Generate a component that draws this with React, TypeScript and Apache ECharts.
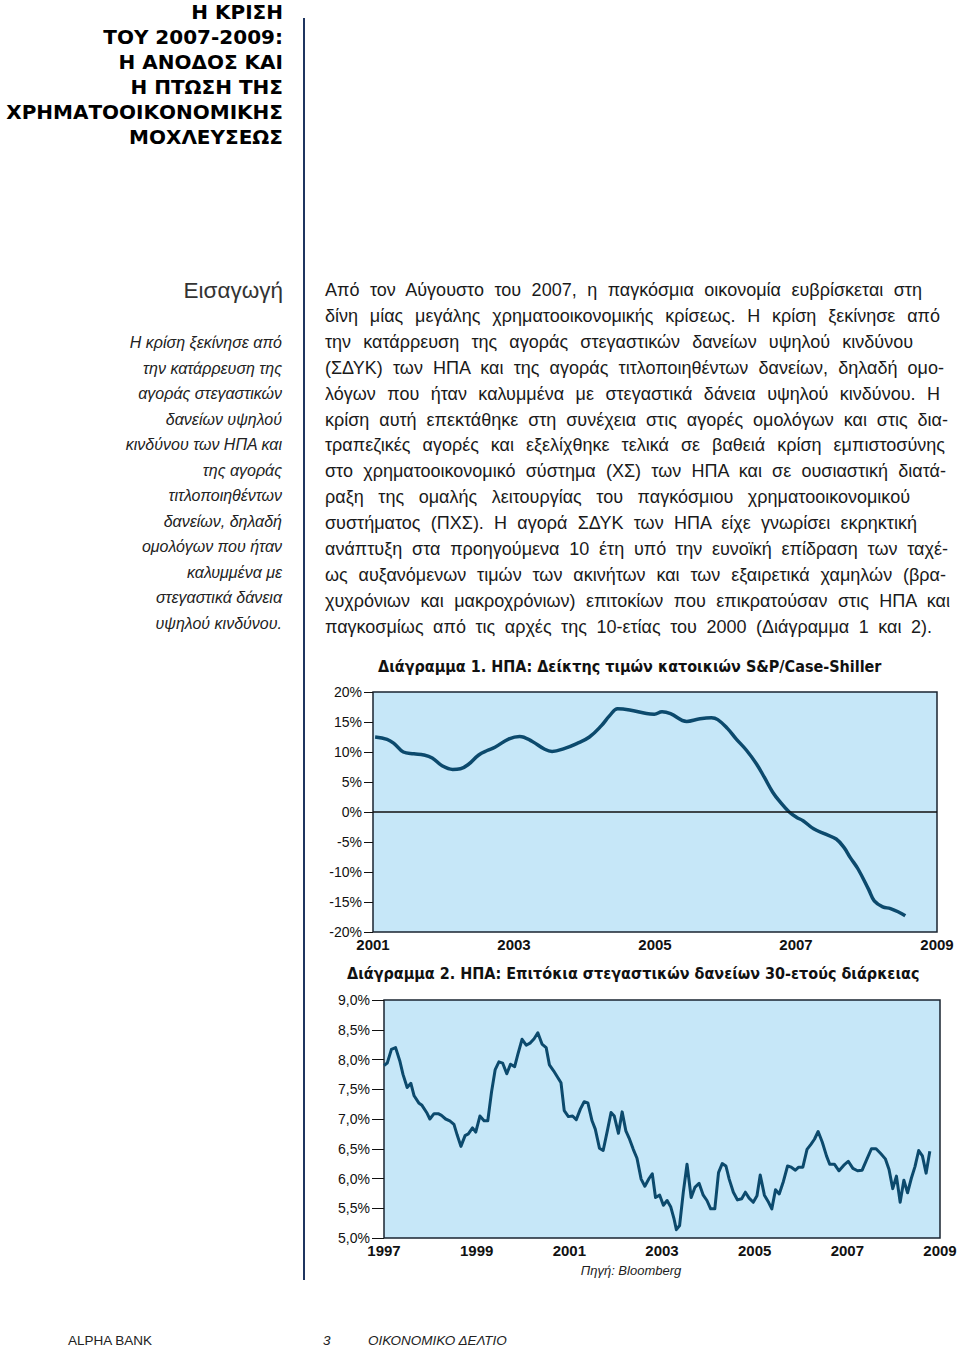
import React, { useEffect, useRef } from "react";
import * as echarts from "echarts";

// ---------- DATA ----------
const csYears = [2001.03, 2001.2, 2001.3, 2001.43, 2001.58, 2001.72, 2001.84, 2001.98, 2002.13, 2002.24, 2002.36, 2002.5, 2002.62, 2002.73, 2002.93, 2003.08, 2003.26, 2003.43, 2003.54, 2003.72, 2003.89, 2004.07, 2004.24, 2004.36, 2004.47, 2004.64, 2004.88, 2004.99, 2005.1, 2005.22, 2005.45, 2005.62, 2005.8, 2005.89, 2006.03, 2006.15, 2006.3, 2006.44, 2006.55, 2006.67, 2006.78, 2006.9, 2007.01, 2007.1, 2007.25, 2007.42, 2007.57, 2007.68, 2007.77, 2007.88, 2008.03, 2008.11, 2008.23, 2008.34, 2008.46, 2008.55];
const csValues = [12.5, 12.1, 11.4, 10.0, 9.7, 9.5, 9.0, 7.7, 7.1, 7.2, 8.0, 9.5, 10.25, 10.8, 12.2, 12.6, 11.75, 10.5, 10.1, 10.6, 11.4, 12.5, 14.4, 16.1, 17.2, 17.0, 16.4, 16.3, 16.7, 16.4, 15.1, 15.5, 15.7, 15.4, 13.9, 12.2, 10.25, 8.0, 5.8, 3.3, 1.6, 0.05, -0.9, -1.45, -2.8, -3.7, -4.5, -5.9, -7.6, -9.5, -12.9, -14.8, -15.8, -16.1, -16.7, -17.3];

const rateYears = [1997.0, 1997.07, 1997.16, 1997.25, 1997.34, 1997.41, 1997.5, 1997.58, 1997.65, 1997.75, 1997.82, 1997.92, 1997.99, 1998.08, 1998.17, 1998.24, 1998.33, 1998.42, 1998.51, 1998.58, 1998.66, 1998.75, 1998.82, 1998.91, 1998.98, 1999.07, 1999.16, 1999.24, 1999.32, 1999.4, 1999.48, 1999.56, 1999.65, 1999.73, 1999.82, 1999.89, 1999.98, 2000.07, 2000.16, 2000.24, 2000.32, 2000.41, 2000.5, 2000.57, 2000.66, 2000.74, 2000.82, 2000.89, 2000.98, 2001.07, 2001.15, 2001.24, 2001.32, 2001.4, 2001.49, 2001.56, 2001.65, 2001.73, 2001.82, 2001.9, 2001.97, 2002.06, 2002.14, 2002.22, 2002.3, 2002.38, 2002.46, 2002.55, 2002.63, 2002.72, 2002.79, 2002.86, 2002.95, 2003.03, 2003.11, 2003.19, 2003.26, 2003.31, 2003.38, 2003.46, 2003.54, 2003.63, 2003.71, 2003.8, 2003.89, 2003.97, 2004.05, 2004.14, 2004.22, 2004.3, 2004.38, 2004.45, 2004.54, 2004.63, 2004.72, 2004.8, 2004.88, 2004.97, 2005.05, 2005.12, 2005.21, 2005.3, 2005.37, 2005.45, 2005.53, 2005.62, 2005.71, 2005.79, 2005.88, 2005.95, 2006.04, 2006.13, 2006.21, 2006.29, 2006.37, 2006.46, 2006.55, 2006.62, 2006.72, 2006.82, 2006.92, 2007.02, 2007.12, 2007.22, 2007.32, 2007.42, 2007.52, 2007.62, 2007.72, 2007.82, 2007.9, 2007.98, 2008.06, 2008.14, 2008.22, 2008.3, 2008.38, 2008.46, 2008.54, 2008.62, 2008.7, 2008.78];
const rateValues = [7.9, 7.94, 8.17, 8.2, 7.98, 7.75, 7.53, 7.6, 7.39, 7.27, 7.23, 7.11, 7.0, 7.09, 7.09, 7.06, 7.0, 6.97, 6.91, 6.73, 6.54, 6.72, 6.75, 6.85, 6.78, 7.05, 6.97, 6.97, 7.45, 7.83, 7.96, 7.94, 7.76, 7.92, 7.88, 8.09, 8.34, 8.24, 8.28, 8.35, 8.45, 8.26, 8.2, 7.91, 7.81, 7.71, 7.61, 7.14, 7.04, 7.05, 6.99, 7.17, 7.29, 7.27, 6.97, 6.83, 6.51, 6.47, 6.8, 7.11, 7.05, 6.76, 7.12, 6.8, 6.66, 6.49, 6.34, 5.99, 5.87, 6.0, 6.08, 5.68, 5.72, 5.55, 5.63, 5.52, 5.32, 5.14, 5.21, 5.77, 6.24, 5.68, 5.85, 5.92, 5.72, 5.63, 5.49, 5.49, 6.1, 6.25, 6.21, 5.99, 5.77, 5.64, 5.66, 5.77, 5.67, 5.6, 5.71, 6.06, 5.72, 5.6, 5.49, 5.81, 5.74, 5.95, 6.21, 6.19, 6.14, 6.19, 6.19, 6.49, 6.57, 6.66, 6.79, 6.61, 6.38, 6.24, 6.24, 6.13, 6.22, 6.29, 6.17, 6.13, 6.14, 6.32, 6.5, 6.5, 6.42, 6.33, 6.15, 5.83, 6.04, 5.6, 5.97, 5.76, 6.0, 6.2, 6.47, 6.38, 6.09, 6.46, 6.01];

const chart1Title = "Διάγραμμα 1. ΗΠΑ: Δείκτης τιμών κατοικιών S&P/Case-Shiller";
const chart2Title = "Διάγραμμα 2. ΗΠΑ: Επιτόκια στεγαστικών δανείων 30-ετούς διάρκειας";
const sourceText = "Πηγή: Bloomberg";

const headlineLines = ["Η ΚΡΙΣΗ", "ΤΟΥ 2007-2009:", "Η ΑΝΟΔΟΣ ΚΑΙ", "Η ΠΤΩΣΗ ΤΗΣ", "ΧΡΗΜΑΤΟΟΙΚΟΝΟΜΙΚΗΣ", "ΜΟΧΛΕΥΣΕΩΣ"];
const introHeading = "Εισαγωγή";
const introLines = ["Η κρίση ξεκίνησε από", "την κατάρρευση της", "αγοράς στεγαστικών", "δανείων υψηλού", "κινδύνου των ΗΠΑ και", "της αγοράς", "τιτλοποιηθέντων", "δανείων, δηλαδή", "ομολόγων που ήταν", "καλυμμένα με", "στεγαστικά δάνεια", "υψηλού κινδύνου."];
const bodyLines = [
  "Από τον Αύγουστο του 2007, η παγκόσμια οικονομία ευβρίσκεται στη",
  "δίνη μίας μεγάλης χρηματοοικονομικής κρίσεως. Η κρίση ξεκίνησε από",
  "την κατάρρευση της αγοράς στεγαστικών δανείων υψηλού κινδύνου",
  "(ΣΔΥΚ) των ΗΠΑ και της αγοράς τιτλοποιηθέντων δανείων, δηλαδή ομο-",
  "λόγων που ήταν καλυμμένα με στεγαστικά δάνεια υψηλού κινδύνου. Η",
  "κρίση αυτή επεκτάθηκε στη συνέχεια στις αγορές ομολόγων και στις δια-",
  "τραπεζικές αγορές και εξελίχθηκε τελικά σε βαθειά κρίση εμπιστοσύνης",
  "στο χρηματοοικονομικό σύστημα (ΧΣ) των ΗΠΑ και σε ουσιαστική διατά-",
  "ραξη της ομαλής λειτουργίας του παγκόσμιου χρηματοοικονομικού",
  "συστήματος (ΠΧΣ). Η αγορά ΣΔΥΚ των ΗΠΑ είχε γνωρίσει εκρηκτική",
  "ανάπτυξη στα προηγούμενα 10 έτη υπό την ευνοϊκή επίδραση των ταχέ-",
  "ως αυξανόμενων τιμών των ακινήτων και των εξαιρετικά χαμηλών (βρα-",
  "χυχρόνιων και μακροχρόνιων) επιτοκίων που επικρατούσαν στις ΗΠΑ και",
  "παγκοσμίως από τις αρχές της 10-ετίας του 2000 (Διάγραμμα 1 και 2).",
];
const bodyLineEnds = [922, 940, 913, 944, 940, 948, 945, 946, 910, 917, 948, 946, 950, 932];
const footerLeft = "ALPHA BANK";
const footerPage = "3";
const footerRight = "ΟΙΚΟΝΟΜΙΚΟ ΔΕΛΤΙΟ";

const SANS = '"Liberation Sans", Arial, Helvetica, sans-serif';
const COND = '"DejaVu Sans Condensed", "Liberation Sans Narrow", "DejaVu Sans", sans-serif';
const LINE = "#0c4a6d";
const PLOT_BG = "#c6e7f8";

function Charts() {
  const ref = useRef<HTMLDivElement>(null);
  useEffect(() => {
    if (!ref.current) return;
    const chart = echarts.init(ref.current, undefined, { renderer: "svg" });
    const yLabel = { fontFamily: SANS, fontSize: 14, color: "#111" };
    const xLabel = { fontFamily: SANS, fontSize: 15, fontWeight: "bold" as const, color: "#111", margin: 5 };
    chart.setOption({
      animation: false,
      graphic: [
        { type: "text", x: 78, y: 21, style: { text: chart1Title, font: `bold 16px ${COND}`, fill: "#111", verticalAlign: "middle" } },
        { type: "text", x: 47, y: 328, style: { text: chart2Title, font: `bold 16px ${COND}`, fill: "#111", verticalAlign: "middle" } },
        { type: "text", x: 331, y: 625, style: { text: sourceText, font: `italic 13px ${SANS}`, fill: "#222", align: "center", verticalAlign: "middle" } },
      ],
      grid: [
        { left: 73, top: 47, width: 564, height: 240, show: true, backgroundColor: PLOT_BG, borderColor: "#1a2530", borderWidth: 1.5 },
        { left: 84, top: 355, width: 556, height: 238, show: true, backgroundColor: PLOT_BG, borderColor: "#1a2530", borderWidth: 1.5 },
      ],
      xAxis: [
        { gridIndex: 0, type: "value", min: 2001, max: 2009, interval: 2, axisLine: { show: false }, axisTick: { show: false }, splitLine: { show: false }, axisLabel: { ...xLabel, formatter: (v: number) => String(v) } },
        { gridIndex: 1, type: "value", min: 1997, max: 2009, interval: 2, axisLine: { show: false }, axisTick: { show: false }, splitLine: { show: false }, axisLabel: { ...xLabel, formatter: (v: number) => String(v) } },
      ],
      yAxis: [
        { gridIndex: 0, type: "value", min: -20, max: 20, interval: 5, axisLine: { show: false }, axisTick: { show: true, length: 9, lineStyle: { color: "#111", width: 1 } }, splitLine: { show: false }, axisLabel: { ...yLabel, margin: 11, formatter: (v: number) => `${v}%` } },
        { gridIndex: 1, type: "value", min: 5, max: 9, interval: 0.5, axisLine: { show: false }, axisTick: { show: true, length: 12, lineStyle: { color: "#111", width: 1 } }, splitLine: { show: false }, axisLabel: { ...yLabel, margin: 14, formatter: (v: number) => `${v.toFixed(1).replace(".", ",")}%` } },
      ],
      series: [
        {
          type: "line", xAxisIndex: 0, yAxisIndex: 0, data: csYears.map((y, i) => [y, csValues[i]]), smooth: 0.4, showSymbol: false,
          lineStyle: { color: LINE, width: 3.5 },
          markLine: { silent: true, symbol: "none", label: { show: false }, lineStyle: { color: "#111", width: 1.5, type: "solid" }, data: [{ yAxis: 0 }] },
        },
        { type: "line", xAxisIndex: 1, yAxisIndex: 1, data: rateYears.map((y, i) => [y, rateValues[i]]), showSymbol: false, lineStyle: { color: LINE, width: 3, join: "round" } },
      ],
    });
    return () => chart.dispose();
  }, []);
  return <div ref={ref} style={{ position: "absolute", left: 300, top: 645, width: 660, height: 650 }} />;
}

export default function App() {
  useEffect(() => {
    document.body.style.margin = "0";
  }, []);
  const abs = (s: React.CSSProperties): React.CSSProperties => ({ position: "absolute", ...s });
  return (
    <div style={{ position: "relative", width: 960, height: 1350, background: "#fff", overflow: "hidden", fontFamily: SANS, color: "#1a1a1a" }}>
      <div style={abs({ left: 0, top: 0, width: 283, textAlign: "right", fontFamily: '"DejaVu Sans", sans-serif', fontWeight: "bold", fontSize: 20, lineHeight: "25px", color: "#000", whiteSpace: "nowrap" })}>
        {headlineLines.map((l, i) => <div key={i}>{l}</div>)}
      </div>
      <div style={abs({ left: 303, top: 18, width: 2, height: 1262, background: "#1f3560" })} />
      <div style={abs({ left: 0, top: 277, width: 283, textAlign: "right", fontSize: 22.5, lineHeight: "28px", color: "#333", fontWeight: 300 })}>{introHeading}</div>
      <div style={abs({ left: 0, top: 330, width: 282, textAlign: "right", fontSize: 16, lineHeight: "25.5px", fontStyle: "italic", color: "#222" })}>
        {introLines.map((l, i) => <div key={i} style={{ whiteSpace: "nowrap" }}>{l}</div>)}
      </div>
      {bodyLines.map((l, i) => (
        <div key={i} style={abs({ left: 325, top: 277 + i * 25.9, width: bodyLineEnds[i] - 325, fontSize: 18, lineHeight: "26px", whiteSpace: "nowrap", textAlign: "justify", textAlignLast: "justify", color: "#1a1a1a" })}>{l}</div>
      ))}
      <Charts />
      <div style={abs({ left: 68, top: 1333, fontSize: 13.5, lineHeight: "16px", color: "#222" })}>{footerLeft}</div>
      <div style={abs({ left: 323, top: 1333, fontSize: 13.5, lineHeight: "16px", fontStyle: "italic", color: "#222" })}>{footerPage}</div>
      <div style={abs({ left: 368, top: 1333, fontSize: 13.5, lineHeight: "16px", fontStyle: "italic", color: "#222" })}>{footerRight}</div>
    </div>
  );
}
